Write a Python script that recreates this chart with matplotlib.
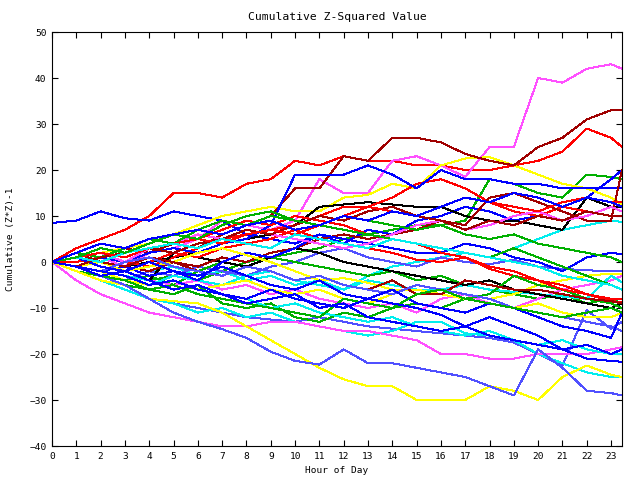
# Cumulative (Z*Z)-1 per run, plotted against hour of day
import matplotlib
matplotlib.use("Agg")
import matplotlib.pyplot as plt

hours = list(range(24)) + [23.45]

# colour names -> gnuplot-like colours
palette = {
    "red": "#ff0000", "darkred": "#a00000", "green": "#00b000",
    "blue": "#0000ff", "slate": "#5050ff", "magenta": "#ff50ff",
    "cyan": "#00eeee", "yellow": "#ffff00", "black": "#000000",
}

# values read (roughly) off the picture, one entry per hour + the last sample
mag_top   = [0,-1,1,-1,2,3,5,9,8,7,9,18,15,15,22,23,21,18.5,25,25,40,39,42,43,42]
dred_top  = [0,2,1,3,2,4,3,6,8,10,16,16,23,22,27,27,26,23.5,22,21,25,27,31,33,33]
red_top   = [0,3,5,7,10,15,15,14,17,18,22,21,23,22,22,21,21,20,20,21,22,24,29,27,25]
blue_a    = [8.5,9,11,9.5,9,11,10,9,6,5,4,6,4,7,6,9,10,12,11,9,10,12,14,18,20]
blue_b    = [0,-1,1,0,2,3,2,4,5,8,19,19,19,21,19,16,20,18,18,17,17,16,16,16,16]
yel_top   = [0,1,2,3,4,6,8,10,11,12,11,11,14,14.6,17,16,21,22.5,22.8,21,19,17,16,14,12.4]
black_a   = [0,-1,-2,-1,0,1,2,4,5,6,8,12,12.5,13,12.5,12,12,10,9,9,8,7,14,12,12]
green_a   = [0,-1,-2,-3,-4,-3,-4,-2,0,1,2,3,5,6,7,8,8,9,18,17,15,14,19,18.5,18]
dred_b    = [0,1,0,-1,-2,0,-1,1,0,2,3,5,6,5,6,7,9,8,14,15,13,11,9,9,20]
red_b     = [0,0,1,0,-1,1,3,5,6,7,8,10,12,12,14,17,18,16,13,11,10,12,11,10,10]
blue_c    = [0,-1,-2,-1,-3,-2,-4,0,2,1,3,6,5,4,3,2,2,4,3,1,0,-2,1,2,1.7]
slate_a   = [0,-2,-3,-4,-2,-3,-1,-2,-3,-1,0,2,3,1,0,-1,1,0,-0.5,0.5,-1,-1.5,-1.8,-2,-2]
red_c     = [0,1,-1,-2,0,2,1,3,4,5,7,5,4,3,2,0.5,0,1,-1.5,-3,-4,-5,-7,-8.5,-8.7]
green_b   = [0,-1,-2,-4,-3,-5,-2,0,2,1,0,-1,-2,-3,-2,-4,-3,-5,-6,-7,-8,-7,-9,-8,-9]
dred_c    = [0,2,0,-1,1,0,-2,-3,-1,-2,-4,-3,-5,-6,-4,-7,-7,-4,-5,-6,-6,-7,-8,-8.5,-9]
green_c   = [0,-2,-3,-5,-6,-7,-5,-9,-10,-9,-12,-13,-11,-12,-10,-9,-10,-8,-7,-3,-5,-6,-8,-9,-10]
blue_low  = [0,-1,-3,-2,-4,-6,-5,-7,-8,-6,-8,-9,-10,-8,-9,-10,-11.5,-14,-12,-14,-16,-19,-21,-21.5,-21.7]
cyan_low  = [0,-2,-4,-6,-8,-9,-11,-10,-12,-11,-13,-14,-15,-16,-15,-13,-13,-15.5,-16,-17,-20,-22,-24,-25,-25]
cyan_b    = [0,-1,-3,-4,-5,-3,-4,-5,-3,-2,-4,-5,-6,-4,-5,-6,-6,-5,-6,-6.5,-7,-7.5,-8,-3,-4.4]
cyan_c    = [0,1,0,-1,-2,-1,-3,-2,-4,-3,-5,-4,-6,-3,-1,0,1,2,1,3,5,7,8,9,8.7]
slate_b   = [0,-2,-4,-6,-8,-9,-10,-11,-12,-12.5,-13,-12,-13,-14,-14.5,-15,-15.5,-16,-16.5,-17.5,-20,-22.5,-10.5,-14.5,-13]
mag_b     = [0,-1,-3,-2,-4,-5,-4,-6,-5,-7,-6,-8,-9,-10,-9,-11,-8,-7,-9,-10,-8,-6,-5,-4,-3]
mag_c     = [0,1,2,0,3,4,6,5,7,6,5,4,3,4,6,8,9,7,8,10,11,9,10,12,11]
yel_b     = [0,-1,-2,-4,-5,-4,-6,-5,-4,-6,-7,-6,-8,-9,-7,-5,-6,-7,-8,-7,-5,-4,-3,-2.5,-2.6]
yel_c     = [0,-1,0,-2,-1,0,2,3,1.5,0,-2,-4,-3.5,-4.5,-6,-6,-7,-8,-9,-10,-9,-11,-12,-12,-11]
red_d     = [0,-1,1,2,4,6,5,7,9,8,10,9,8,6,5,4,2,1,-1,-2,-4,-6,-7,-8,-8]
blue_d    = [0,1,-1,-2,0,-2,-3,-1,-3,-5,-6,-4,-7,-8,-6,-9,-10,-11,-9,-10,-12,-14,-15,-16.5,-11]
green_d   = [0,2,1,3,5,4,7,9,8,10,9,8,7,6,5,4,3,2,1,3,1,-1,-3,-5,-6]
dred_d    = [0,-1,1,2,3,2,4,5,7,6,8,10,9,11,12,10,9,7,9,8,10,9,11,10,10]
black_b   = [0,-1,-2,-3,-4,2,1,0,-1,1,3,2,0,-1,-2,-3,-4,-5,-4,-6,-7,-8,-9,-10,-9]
blue_e    = [0,-1,-2,-3,-5,-4,-6,-7,-9,-8,-7,-10,-9,-12,-13,-14,-15,-14,-16,-17,-18,-19,-18,-20,-19]
cyan_d    = [0,-1,-2,-3,-4,-6,-5,-7,-8,-10,-9,-11,-12,-13,-12,-14,-15,-16,-15,-17,-18,-17,-19,-20,-20]
green_e   = [0,-1,-3,-4,-6,-5,-7,-8,-9,-10,-11,-12,-8,-9,-10,-7,-6,-8,-9,-10,-11,-12,-11,-10,-11]
red_e     = [0,1,2,1,3,4,5,4,6,7,6,8,10,12,11,10,12,14,13,12,11,13,14,13,13]
blue_f    = [0,2,4,3,5,6,7,6,8,9,7,8,10,9,11,10,12,14,13,15,14,12,14,13,12]
slate_c   = [0,-1,-2,0,1,-1,-2,-3,-1,-2,-4,-3,-5,-6,-7,-5,-6,-7,-8,-10,-11,-12,-13,-14,-15]
cyan_e    = [0,1,0,2,3,4,3,5,4,3,6,5,4,3,5,4,3,2,1,0,-1,-3,-4,-5,-6]
green_f   = [0,1,3,2,4,6,5,8,10,11,9,8,10,9,8,7,8,6,5,6,4,3,2,1,0]
mag_low   = [0,-4,-7,-9,-11,-12,-13,-14,-14,-13,-13,-14,-15,-15,-16,-17,-20,-20,-21,-21,-20,-20,-20,-19,-18.5]
slate_low = [0,-1,-3,-5,-8,-11,-13,-14.6,-16.5,-19.5,-21.5,-22.3,-19,-22,-22,-23,-24,-25,-27,-29,-19,-23,-28,-28.5,-29]
yel_low   = [0,-2,-4,-5,-8,-8.5,-9,-11,-14,-17,-20,-23,-25.5,-27,-27,-30,-30,-30,-27,-28,-30,-25,-22.5,-24.5,-25]

runs = [
    ("red", red_top), ("green", green_a), ("blue", blue_a), ("magenta", mag_top),
    ("cyan", cyan_c), ("yellow", yel_top), ("black", black_a), ("darkred", dred_top),
    ("slate", slate_a), ("red", red_b), ("green", green_b), ("blue", blue_b),
    ("magenta", mag_b), ("cyan", cyan_b), ("yellow", yel_b), ("black", black_b),
    ("darkred", dred_b), ("slate", slate_b), ("red", red_c), ("green", green_c),
    ("blue", blue_c), ("magenta", mag_c), ("cyan", cyan_low), ("yellow", yel_c),
    ("darkred", dred_c), ("slate", slate_c), ("red", red_d), ("green", green_d),
    ("blue", blue_d), ("magenta", mag_low), ("cyan", cyan_d), ("yellow", yel_low),
    ("darkred", dred_d), ("slate", slate_low), ("red", red_e), ("green", green_e),
    ("blue", blue_low), ("cyan", cyan_e), ("green", green_f), ("blue", blue_e),
    ("blue", blue_f),
]

plt.rcParams['font.family'] = ['DejaVu Sans Mono']
plt.rcParams['font.size'] = 6.8

fig = plt.figure(figsize=(6.4, 4.8), dpi=100)
ax = fig.add_axes([52/640, 1 - 446/480, 570/640, 414/480])

for c, vals in runs:
    ax.plot(hours, vals, color=palette[c], linewidth=0.72, antialiased=False)

ax.set_xlim(0, 23.45)
ax.set_ylim(-40, 50)
ax.set_xticks(range(24))
ax.set_yticks(range(-40, 51, 10))
ax.tick_params(direction='in', length=4, width=0.8, top=True, right=True, pad=4)
for s in ax.spines.values():
    s.set_linewidth(0.8)

ax.set_title("Cumulative Z-Squared Value", pad=9)
ax.set_xlabel("Hour of Day", labelpad=4)
ax.set_ylabel("Cumulative (Z*Z)-1", labelpad=10)

fig.savefig("out.png", dpi=100)
